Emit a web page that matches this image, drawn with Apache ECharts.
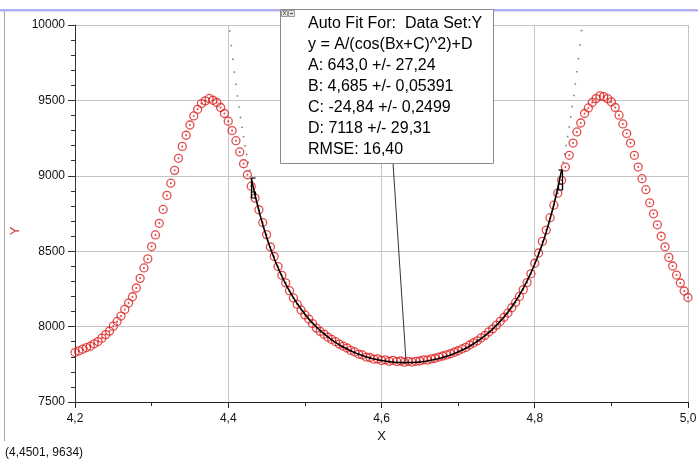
<!DOCTYPE html>
<html>
<head>
<meta charset="utf-8">
<script src="https://cdn.jsdelivr.net/npm/echarts@6/dist/echarts.min.js"></script>
<style>
  html, body { margin: 0; padding: 0; background: #fff; }
  #chart { width: 698px; height: 463px; }
</style>
</head>
<body>
<div id="chart"></div>
<script>
// Measured data set (X, Y)
const xValues = [
  4.200,4.205,4.210,4.215,4.220,4.225,4.230,4.235,4.240,4.245,
  4.250,4.255,4.260,4.265,4.270,4.275,4.280,4.285,4.290,4.295,
  4.300,4.305,4.310,4.315,4.320,4.325,4.330,4.335,4.340,4.345,
  4.350,4.355,4.360,4.365,4.370,4.375,4.380,4.385,4.390,4.395,
  4.400,4.405,4.410,4.415,4.420,4.425,4.430,4.435,4.440,4.445,
  4.450,4.455,4.460,4.465,4.470,4.475,4.480,4.485,4.490,4.495,
  4.500,4.505,4.510,4.515,4.520,4.525,4.530,4.535,4.540,4.545,
  4.550,4.555,4.560,4.565,4.570,4.575,4.580,4.585,4.590,4.595,
  4.600,4.605,4.610,4.615,4.620,4.625,4.630,4.635,4.640,4.645,
  4.650,4.655,4.660,4.665,4.670,4.675,4.680,4.685,4.690,4.695,
  4.700,4.705,4.710,4.715,4.720,4.725,4.730,4.735,4.740,4.745,
  4.750,4.755,4.760,4.765,4.770,4.775,4.780,4.785,4.790,4.795,
  4.800,4.805,4.810,4.815,4.820,4.825,4.830,4.835,4.840,4.845,
  4.850,4.855,4.860,4.865,4.870,4.875,4.880,4.885,4.890,4.895,
  4.900,4.905,4.910,4.915,4.920,4.925,4.930,4.935,4.940,4.945,
  4.950,4.955,4.960,4.965,4.970,4.975,4.980,4.985,4.990,4.995,
  5.000
];
const yValues = [
  7828,7839,7850,7861,7870,7886,7901,7923,7947,7970,
  8003,8034,8070,8114,8156,8198,8256,8320,8389,8449,
  8531,8608,8685,8777,8870,8951,9036,9116,9195,9269,
  9337,9397,9441,9479,9497,9513,9501,9486,9453,9413,
  9362,9300,9233,9158,9080,9007,8931,8852,8775,8690,
  8610,8528,8465,8398,8340,8290,8238,8190,8148,8110,
  8078,8050,8020,7990,7968,7950,7930,7915,7900,7884,
  7870,7858,7842,7832,7818,7812,7798,7795,7784,7786,
  7776,7780,7770,7776,7768,7772,7764,7770,7765,7770,
  7772,7780,7778,7786,7790,7798,7805,7812,7820,7830,
  7840,7852,7862,7878,7892,7906,7925,7942,7965,7985,
  8010,8035,8062,8090,8125,8160,8200,8245,8292,8350,
  8420,8488,8565,8640,8722,8805,8885,8970,9058,9136,
  9217,9291,9350,9413,9450,9486,9512,9530,9525,9512,
  9490,9453,9402,9344,9280,9217,9136,9058,8981,8908,
  8821,8748,8675,8599,8529,8459,8402,8342,8289,8236,
  8193
];

// Fit model y = A/(cos(Bx+C)^2)+D and the range it was fitted over
const fitA = 643.0;
const fitB = 4.685;
const fitC = -24.84;
const fitD = 7118;
const fitRange = [4.43, 4.835];

const fitLines = [
  'Auto Fit For:  Data Set:Y',
  'y = A/(cos(Bx+C)^2)+D',
  'A: 643,0 +/- 27,24',
  'B: 4,685 +/- 0,05391',
  'C: -24,84 +/- 0,2499',
  'D: 7118 +/- 29,31',
  'RMSE: 16,40'
];
const cursorText = '(4,4501, 9634)';
const calloutTarget = [4.632, 7768];

const xTicks = { min: 4.2, max: 5.0, step: 0.2 };
const yTicks = { min: 7500, max: 10000, step: 500 };

function fitY(x) {
  const c = Math.cos(fitB * x + fitC);
  return fitA / (c * c) + fitD;
}

const points = xValues.map((x, i) => [x, yValues[i]]);

// solid fitted curve inside the range
const fitCurve = [];
for (let x = fitRange[0]; x <= fitRange[1] + 1e-9; x += 0.0025) {
  fitCurve.push([x, fitY(x)]);
}
fitCurve.push([fitRange[1], fitY(fitRange[1])]);

// dotted continuation of the model outside the fitted range
const fitDots = [];
for (let k = 1; k < 40; k++) {
  const xl = fitRange[0] - 0.002 * k;
  const yl = fitY(xl);
  if (yl <= yTicks.max) fitDots.push([xl, yl]);
  const xr = fitRange[1] + 0.002 * k;
  const yr = fitY(xr);
  if (yr <= yTicks.max) fitDots.push([xr, yr]);
}

const sans = "'Liberation Sans', Arial, sans-serif";

const chart = echarts.init(document.getElementById('chart'), null, { renderer: 'canvas' });

chart.setOption({
  animation: false,
  backgroundColor: '#ffffff',
  grid: { left: 75, right: 10, top: 25, bottom: 61, containLabel: false, outerBoundsMode: 'none' },
  xAxis: {
    type: 'value',
    min: xTicks.min, max: xTicks.max, interval: xTicks.step,
    name: 'X', nameLocation: 'middle', nameGap: 22,
    nameTextStyle: { color: '#111', fontFamily: sans, fontSize: 13 },
    axisLine: { lineStyle: { color: '#222', width: 1 } },
    axisTick: { show: true, length: 6, lineStyle: { color: '#222' } },
    minorTick: { show: true, splitNumber: 2, length: 4, lineStyle: { color: '#222' } },
    splitLine: { show: true, lineStyle: { color: '#c4c4c4', width: 1 } },
    axisLabel: {
      color: '#111', fontFamily: sans, fontSize: 12, margin: 11,
      formatter: v => v.toFixed(1).replace('.', ',')
    }
  },
  yAxis: {
    type: 'value',
    min: yTicks.min, max: yTicks.max, interval: yTicks.step,
    axisLine: { show: true, lineStyle: { color: '#333', width: 1 } },
    axisTick: { show: true, length: 7, lineStyle: { color: '#333' } },
    minorTick: { show: true, splitNumber: 5, length: 4, lineStyle: { color: '#333' } },
    splitLine: { show: true, lineStyle: { color: '#c4c4c4', width: 1 } },
    axisLabel: {
      color: '#111', fontFamily: sans, fontSize: 12, margin: 10,
      formatter: v => String(v)
    }
  },
  series: [
    {
      name: 'Y',
      type: 'scatter',
      data: points,
      symbol: 'circle',
      symbolSize: 8,
      itemStyle: { color: 'rgba(255,255,255,0)', borderColor: '#dd1f1f', borderWidth: 1.3 },
      z: 2
    },
    {
      name: 'Y centres',
      type: 'scatter',
      data: points,
      symbol: 'circle',
      symbolSize: 2,
      itemStyle: { color: '#d01c1c' },
      z: 3
    },
    {
      name: 'Fit',
      type: 'line',
      data: fitCurve,
      showSymbol: false,
      lineStyle: { color: '#000', width: 1.6 },
      z: 4
    },
    {
      name: 'Model',
      type: 'scatter',
      data: fitDots,
      symbol: 'rect',
      symbolSize: 1.5,
      itemStyle: { color: '#555' },
      z: 4
    },
    {
      name: 'Fit range',
      type: 'custom',
      data: [[fitRange[0], fitY(fitRange[0]), 1], [fitRange[1], fitY(fitRange[1]), -1]],
      renderItem: function (params, api) {
        const p = api.coord([api.value(0), api.value(1)]);
        const s = api.value(2);
        const x = Math.round(p[0]) + 0.5;
        const y = Math.round(p[1]);
        const st = { stroke: '#000', lineWidth: 1.2, fill: null };
        return {
          type: 'group',
          children: [
            { type: 'line', shape: { x1: x, y1: y, x2: x, y2: y + 20 }, style: st },
            { type: 'line', shape: { x1: x, y1: y, x2: x + 4 * s, y2: y }, style: st },
            { type: 'rect', shape: { x: s > 0 ? x : x - 4, y: y + 14, width: 4, height: 6 }, style: st }
          ]
        };
      },
      z: 5
    }
  ]
});

// Annotation box, window frame, y title and callout line
const boxX = 280, boxY = 9, boxW = 213, boxH = 154;
const target = chart.convertToPixel({ gridIndex: 0 }, calloutTarget);
const textEls = fitLines.map((t, i) => ({
  type: 'text',
  style: {
    text: t, x: 308, y: 24 + i * 20.9,
    font: '16px ' + sans, fill: '#000',
    verticalAlign: 'middle'
  },
  z: 101
}));

chart.setOption({
  graphic: [
    { type: 'rect', shape: { x: 0, y: 9, width: 698, height: 2.5 }, style: { fill: '#b0b0f2' }, z: 90 },
    { type: 'line', shape: { x1: 4.5, y1: 11, x2: 4.5, y2: 441 }, style: { stroke: '#a8a8a8', lineWidth: 1 }, z: 90 },
    {
      type: 'text', x: 15, y: 231, rotation: Math.PI / 2,
      style: { text: 'Y', font: '13px ' + sans, fill: '#d83030', align: 'center', verticalAlign: 'middle' },
      z: 95
    },
    {
      type: 'line',
      shape: { x1: 393, y1: boxY + boxH, x2: target[0], y2: target[1] },
      style: { stroke: '#333', lineWidth: 1 }, z: 99
    },
    {
      type: 'rect',
      shape: { x: boxX + 0.5, y: boxY + 0.5, width: boxW, height: boxH },
      style: { fill: '#fff', stroke: '#8a8a8a', lineWidth: 1 }, z: 100
    },
    { type: 'rect', shape: { x: 281.5, y: 10.5, width: 6, height: 6 }, style: { fill: '#e4e4e4', stroke: '#9a9a9a', lineWidth: 1 }, z: 101 },
    { type: 'rect', shape: { x: 288.5, y: 10.5, width: 6, height: 6 }, style: { fill: '#e4e4e4', stroke: '#9a9a9a', lineWidth: 1 }, z: 101 },
    { type: 'text', style: { text: 'x', x: 284.5, y: 13, font: '7px ' + sans, fill: '#444', align: 'center', verticalAlign: 'middle' }, z: 102 },
    { type: 'line', shape: { x1: 290, y1: 13.5, x2: 293, y2: 13.5 }, style: { stroke: '#444', lineWidth: 1 }, z: 102 },
    ...textEls,
    {
      type: 'text',
      style: { text: cursorText, x: 5, y: 453, font: '12px ' + sans, fill: '#111', verticalAlign: 'middle' },
      z: 101
    }
  ]
});
</script>
</body>
</html>
